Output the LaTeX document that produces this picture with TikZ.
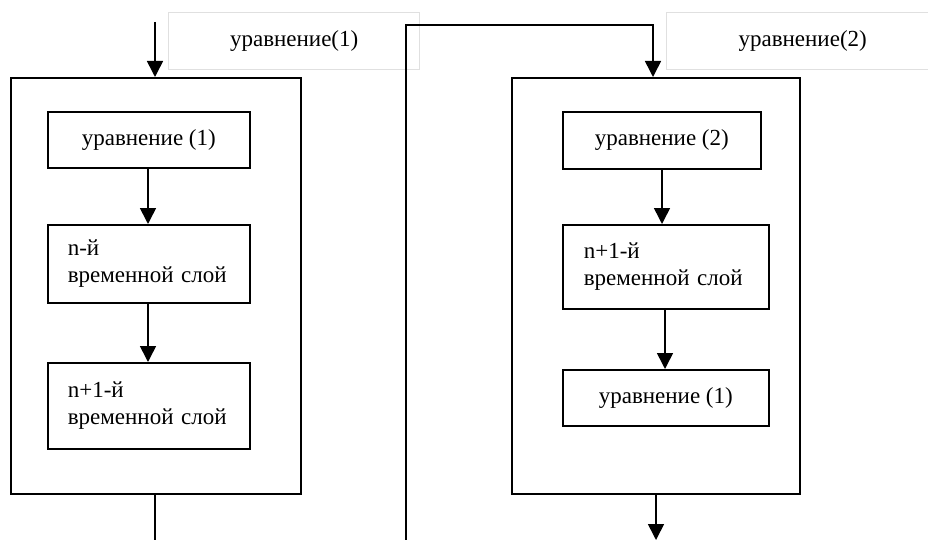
\documentclass[tikz,border=0pt]{standalone}
\usepackage{fontspec}
\setmainfont{Liberation Serif}
\usetikzlibrary{arrows.meta}
\begin{document}
\begin{tikzpicture}[x=1pt,y=-1pt,
  line width=1.6pt,
  every node/.style={font=\fontsize{23}{27}\selectfont},
  blk/.style={draw,line width=1.6pt,inner sep=0pt,anchor=north west},
  lbl/.style={draw=black!12,line width=1.4pt,inner sep=0pt,anchor=north west,fill=white},
  arr/.style={-{Triangle[width=16pt,length=16pt]},line width=1.6pt}]
\useasboundingbox (0,0) rectangle (928,540);
% label boxes
\node[lbl,minimum width=251pt,minimum height=57pt] (lab1) at (168,12) {уравнение(1)};
\node[lbl,minimum width=272pt,minimum height=57pt] (lab2) at (666,12) {уравнение(2)};
% left column
\node[blk,minimum width=290pt,minimum height=416pt] (outL) at (10,77) {};
\node[blk,minimum width=202pt,minimum height=56pt] (l1) at (47,111) {уравнение (1)};
\node[blk,text width=162pt,inner xsep=20pt,align=left,minimum height=78pt] (l2) at (47,224) {n-й\\\mbox{временной слой}};
\node[blk,text width=162pt,inner xsep=20pt,align=left,minimum height=86pt] (l3) at (47,362) {n+1-й\\\mbox{временной слой}};
% right column
\node[blk,minimum width=288pt,minimum height=416pt] (outR) at (511,77) {};
\node[blk,minimum width=198pt,minimum height=57pt] (r1) at (562,111) {уравнение (2)};
\node[blk,text width=164pt,inner xsep=21pt,align=left,minimum height=84pt] (r2) at (562,224) {n+1-й\\\mbox{временной слой}};
\node[blk,minimum width=206pt,minimum height=56pt] (r3) at (562,369) {уравнение (1)};
% connectors
\coordinate (inL) at (155,22);
\coordinate (outLend) at (155,540);
\coordinate (loopB) at (406,540);
\coordinate (loopT) at (406,25);
\coordinate (outRend) at (656,540);
\draw[arr] (inL) -- (inL |- outL.north);
\draw[arr] (l1.south -| 148,0) -- (l2.north -| 148,0);
\draw[arr] (l2.south -| 148,0) -- (l3.north -| 148,0);
\draw (outL.south -| outLend) -- (outLend);
\draw[arr] (loopB) -- (loopT) -| (outR.north -| 653,0);
\draw[arr] (r1.south -| 662,0) -- (r2.north -| 662,0);
\draw[arr] (r2.south -| 665,0) -- (r3.north -| 665,0);
\draw[arr] (outR.south -| outRend) -- (outRend);
\end{tikzpicture}
\end{document}
